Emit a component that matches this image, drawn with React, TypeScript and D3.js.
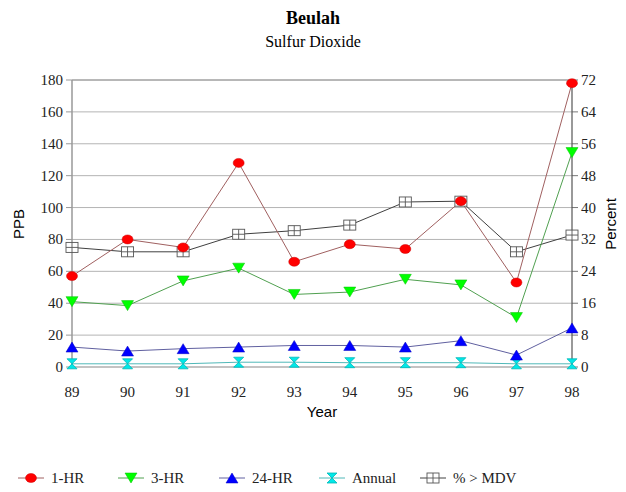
import React from "react";
import * as d3 from "d3";

const years = ["89", "90", "91", "92", "93", "94", "95", "96", "97", "98"];
const hr1 = [57, 80, 75, 128, 66, 77, 74, 104, 53, 178];
const hr3 = [41, 38.5, 54, 62, 45.5, 47, 55, 51.5, 31, 134.5];
const hr24 = [12.5, 10, 11.5, 12.5, 13.5, 13.5, 12.5, 16.5, 7.5, 24.5];
const annual = [2, 2, 2, 3, 3, 2.7, 2.7, 2.7, 2, 2];
const pctMdv = [30, 28.9, 28.9, 33.3, 34.2, 35.6, 41.4, 41.6, 28.9, 33.1];
const leftTicks = [0, 20, 40, 60, 80, 100, 120, 140, 160, 180];
const rightTicks = [0, 8, 16, 24, 32, 40, 48, 56, 64, 72];

const W = 626, H = 492;
const L = 72, R = 572, T = 80, B = 367;

const serif = "'Liberation Serif', 'Times New Roman', serif";
const sans = "'Liberation Sans', Arial, sans-serif";

function Marker({ kind, x, y }: { kind: string; x: number; y: number }) {
  if (kind === "circle")
    return <ellipse cx={x} cy={y} rx={5.5} ry={4.5} fill="#ff0000" stroke="#cc0000" strokeWidth={0.5} />;
  if (kind === "down")
    return <path d={`M${x - 6},${y - 5}L${x + 6},${y - 5}L${x},${y + 5}Z`} fill="#00ff00" stroke="#00c000" strokeWidth={0.5} />;
  if (kind === "up")
    return <path d={`M${x - 6},${y + 5}L${x + 6},${y + 5}L${x},${y - 5}Z`} fill="#0000ff" stroke="#0000c0" strokeWidth={0.5} />;
  if (kind === "hour")
    return <path d={`M${x - 5},${y - 5}L${x + 5},${y - 5}L${x - 5},${y + 5}L${x + 5},${y + 5}Z`} fill="#00e8e8" stroke="#00b8b8" strokeWidth={0.8} />;
  return (
    <g stroke="#555" strokeWidth={0.9} fill="white">
      <rect x={x - 6} y={y - 5} width={12} height={10} />
      <line x1={x} y1={y - 5} x2={x} y2={y + 5} />
      <line x1={x - 6} y1={y} x2={x + 6} y2={y} />
    </g>
  );
}

export default function App() {
  const x = d3.scalePoint<string>().domain(years).range([L, R]);
  const yL = d3.scaleLinear().domain([0, 180]).range([B, T]);
  const yR = d3.scaleLinear().domain([0, 72]).range([B, T]);

  const series = [
    { name: "1-HR", data: hr1, y: yL, line: "#a06060", kind: "circle" },
    { name: "3-HR", data: hr3, y: yL, line: "#50a050", kind: "down" },
    { name: "24-HR", data: hr24, y: yL, line: "#6060a0", kind: "up" },
    { name: "Annual", data: annual, y: yL, line: "#50b8b8", kind: "hour" },
    { name: "% > MDV", data: pctMdv, y: yR, line: "#404040", kind: "box" },
  ];
  const drawOrder = [4, 3, 2, 1, 0];
  const legendX = [18, 118, 219, 319, 420];

  return (
    <svg width={W} height={H} style={{ position: "absolute", left: 0, top: 0, background: "white" }}>
      <text x={313} y={24} textAnchor="middle" fontFamily={serif} fontWeight="bold" fontSize={18}>Beulah</text>
      <text x={313} y={47} textAnchor="middle" fontFamily={serif} fontSize={16}>Sulfur Dioxide</text>

      {leftTicks.map((t) => (
        <g key={t}>
          {t > 0 && <line x1={L} x2={R} y1={yL(t)} y2={yL(t)} stroke={t === 180 ? "#707070" : "#b4b4b4"} strokeWidth={1} />}
          <line x1={L - 6} x2={L} y1={yL(t)} y2={yL(t)} stroke="#999" />
          <text x={L - 9} y={yL(t) + 5} textAnchor="end" fontFamily={serif} fontSize={15} fill="#222">{t}</text>
        </g>
      ))}
      {rightTicks.map((t) => (
        <g key={t}>
          <line x1={R} x2={R + 6} y1={yR(t)} y2={yR(t)} stroke="#777" />
          <text x={R + 9} y={yR(t) + 5} textAnchor="start" fontFamily={serif} fontSize={15} fill="#222">{t}</text>
        </g>
      ))}
      <line x1={L} x2={L} y1={T} y2={B} stroke="#999" strokeWidth={1.5} />
      <line x1={R} x2={R} y1={T} y2={B} stroke="#555" strokeWidth={1.2} />
      <line x1={L} x2={R} y1={B} y2={B} stroke="#888" strokeWidth={1.2} />

      {years.map((yr) => (
        <text key={yr} x={x(yr)} y={397} textAnchor="middle" fontFamily={serif} fontSize={15} fill="#222">{yr}</text>
      ))}
      <text x={322} y={417} textAnchor="middle" fontFamily={sans} fontSize={15}>Year</text>
      <text transform={`translate(24,${224}) rotate(-90)`} textAnchor="middle" fontFamily={sans} fontSize={15}>PPB</text>
      <text transform={`translate(616,${224}) rotate(-90)`} textAnchor="middle" fontFamily={sans} fontSize={15}>Percent</text>

      {drawOrder.map((i) => {
        const s = series[i];
        const gen = d3.line<number>().x((_, j) => x(years[j]) as number).y((d) => s.y(d));
        return <path key={s.name} d={gen(s.data) || ""} fill="none" stroke={s.line} strokeWidth={1} />;
      })}
      {drawOrder.map((i) => {
        const s = series[i];
        return (
          <g key={s.name + "m"}>
            {s.data.map((d, j) => (
              <Marker key={j} kind={s.kind} x={x(years[j]) as number} y={s.y(d)} />
            ))}
          </g>
        );
      })}

      {series.map((s, i) => (
        <g key={s.name + "l"}>
          <line x1={legendX[i]} x2={legendX[i] + 26} y1={478} y2={478} stroke={s.line} strokeWidth={1} />
          <Marker kind={s.kind} x={legendX[i] + 13} y={478} />
          <text x={legendX[i] + 33} y={483} fontFamily={serif} fontSize={15} fill="#222">{s.name}</text>
        </g>
      ))}
    </svg>
  );
}
